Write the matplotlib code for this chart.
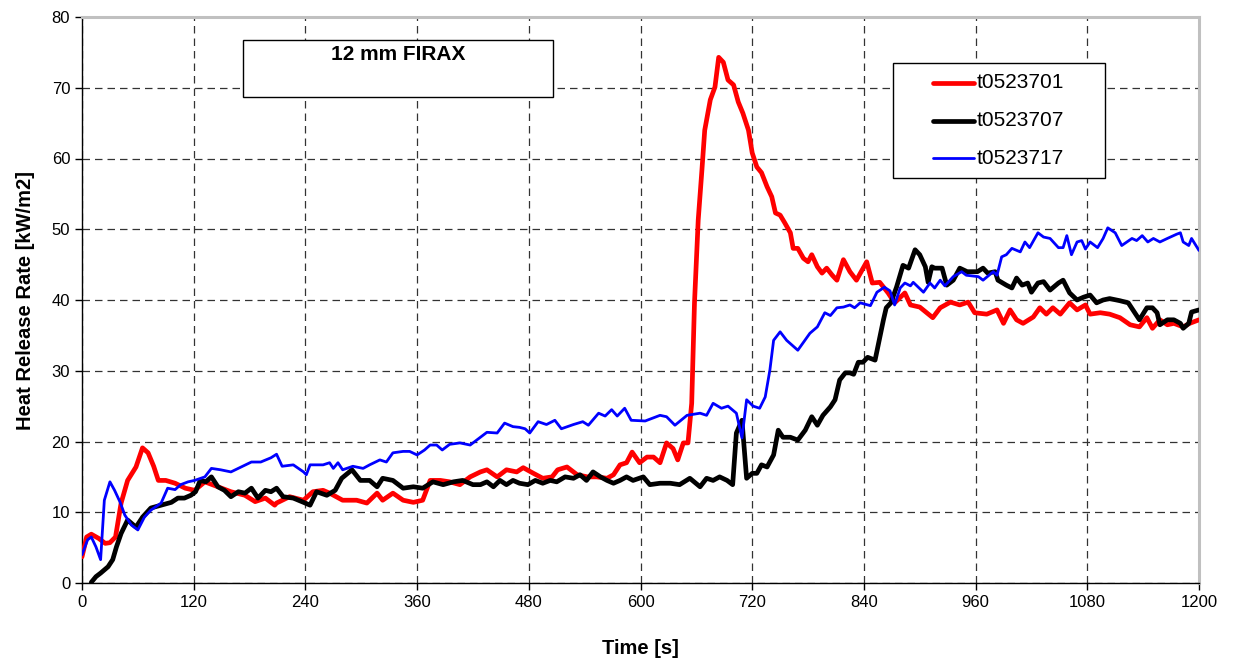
import matplotlib
matplotlib.use("Agg")
import matplotlib.pyplot as plt
from matplotlib.patches import Rectangle
from matplotlib.lines import Line2D

plt.rcParams['font.family'] = ['Liberation Sans', 'DejaVu Sans']

# ---- data ----
red_t = [0,5,10,18,25,30,36,42,49,58,65,71,77,82,90,100,111,121,132,146,160,175,186,197,207,
         209,223,238,248,259,266,280,295,306,317,323,334,345,356,366,374,385,395,406,417,428,435,
         446,456,467,474,485,495,505,511,521,532,543,553,564,571,578,585,591,599,607,614,621,628,
         635,640,646,651,655,658,662,666,669,675,680,684,689,694,700,705,710,716,720,725,730,736,
         741,745,750,755,761,764,769,775,780,784,790,795,800,806,811,818,825,832,843,849,857,866,
         873,884,890,900,914,922,933,943,952,959,972,983,990,997,1004,1011,1022,1029,1036,1043,
         1051,1061,1069,1078,1083,1094,1104,1115,1126,1136,1144,1150,1158,1166,1173,1183,1190,1200]
red_v = [3.7,6.5,6.9,6.3,5.6,5.7,6.5,11.3,14.5,16.4,19.1,18.4,16.5,14.5,14.5,14.1,13.4,13.1,14.3,13.6,
         12.9,12.4,11.5,12.0,11.0,11.3,12.2,11.7,12.9,13.1,12.7,11.7,11.7,11.3,12.7,11.7,12.7,11.7,11.4,
         11.7,14.5,14.5,14.3,13.9,15.0,15.7,16.0,15.0,16.0,15.7,16.3,15.5,14.8,15.0,16.0,16.4,15.3,15.0,
         15.0,14.8,15.3,16.7,17.0,18.5,17.0,17.8,17.8,17.0,19.8,19.0,17.4,19.8,19.8,25.4,39.6,51.3,58.4,
         64.0,68.3,70.1,74.3,73.6,71.1,70.4,68.0,66.4,64.0,60.8,58.8,58.0,56.0,54.6,52.3,52.0,50.9,49.5,
         47.3,47.3,45.9,45.4,46.4,44.7,43.8,44.5,43.5,42.8,45.7,44.0,42.8,45.4,42.4,42.5,41.0,39.6,41.0,
         39.3,39.0,37.5,38.9,39.7,39.3,39.7,38.2,38.0,38.6,36.7,38.6,37.2,36.7,37.6,38.9,38.0,38.9,38.0,
         39.6,38.6,39.3,38.0,38.2,38.0,37.5,36.5,36.2,37.5,36.0,37.2,36.5,36.7,36.2,36.7,37.2]

black_t = [10,15,20,28,33,37,42,49,58,65,74,85,96,103,110,117,122,127,133,139,146,153,160,168,175,182,
           189,197,203,209,216,227,238,245,252,263,272,279,290,299,309,317,323,334,345,356,366,377,388,
           399,409,420,428,435,442,449,456,463,470,479,487,495,503,510,519,528,535,542,549,557,564,571,
           578,585,592,603,610,621,632,642,653,664,671,678,685,693,699,703,709,714,720,725,730,736,743,
           748,753,761,769,777,784,790,796,804,809,814,820,825,829,834,839,844,852,855,861,864,869,875,
           882,888,895,900,906,909,913,916,924,929,936,943,951,962,968,973,981,984,993,999,1004,1010,
           1016,1020,1027,1033,1040,1049,1054,1061,1069,1076,1083,1090,1097,1104,1115,1124,1129,1136,
           1144,1150,1155,1158,1166,1173,1180,1183,1189,1192,1200]
black_v = [0.1,0.9,1.4,2.3,3.3,5.1,7.0,8.9,7.9,9.3,10.6,11.0,11.4,12.0,12.0,12.4,12.9,14.5,14.3,15.0,
           13.6,13.1,12.2,12.9,12.7,13.4,12.0,13.1,12.9,13.4,12.2,12.0,11.4,11.0,12.9,12.4,13.1,14.8,16.0,
           14.5,14.5,13.6,14.8,14.5,13.4,13.6,13.4,14.3,13.9,14.3,14.5,13.9,13.9,14.3,13.6,14.5,13.9,14.5,
           14.1,13.9,14.5,14.1,14.5,14.3,15.0,14.8,15.3,14.5,15.7,15.0,14.5,14.1,14.5,15.0,14.5,15.0,13.9,
           14.1,14.1,13.9,14.8,13.6,14.8,14.5,15.0,14.5,13.9,21.2,23.0,14.8,15.5,15.5,16.7,16.4,18.1,21.6,
           20.6,20.6,20.2,21.6,23.5,22.3,23.7,24.9,25.9,28.7,29.7,29.7,29.5,31.2,31.2,31.9,31.5,33.4,37.2,
           38.9,39.6,41.8,44.9,44.5,47.1,46.4,44.7,42.5,44.7,44.5,44.5,42.1,42.8,44.5,44.0,44.0,44.5,43.8,
           44.0,42.8,42.1,41.7,43.1,42.1,42.4,41.1,42.4,42.6,41.4,42.4,42.8,41.0,40.0,40.4,40.7,39.6,40.0,
           40.2,39.9,39.6,38.6,37.2,38.9,38.9,38.2,36.5,37.2,37.2,36.7,36.0,36.7,38.3,38.6]

blue_t = [0,6,10,15,20,24,30,35,41,46,53,60,67,74,85,92,100,106,114,121,132,139,149,160,171,182,192,
          203,209,215,227,238,241,245,259,266,270,275,280,291,302,309,320,327,334,345,352,360,368,374,
          381,387,395,406,417,428,435,446,454,463,470,476,481,490,499,508,515,528,538,544,555,562,569,
          575,583,590,605,621,628,637,650,664,671,678,687,694,703,709,714,721,728,734,739,743,750,757,
          769,782,790,798,804,811,818,825,830,836,847,854,862,868,873,879,884,890,893,904,911,916,922,
          927,936,945,950,963,968,979,983,988,993,999,1008,1013,1018,1027,1033,1040,1049,1054,1058,1063,
          1069,1074,1078,1083,1091,1097,1102,1110,1117,1128,1133,1139,1145,1151,1158,1166,1176,1180,1183,
          1189,1192,1200]
blue_v = [4.0,6.1,6.5,5.1,3.3,11.7,14.3,13.1,11.4,9.6,8.2,7.5,9.3,10.3,11.3,13.4,13.2,13.9,14.3,14.5,
          15.0,16.2,16.0,15.7,16.4,17.1,17.1,17.7,18.2,16.5,16.7,15.7,15.3,16.7,16.7,17.0,16.2,17.0,16.0,
          16.5,16.2,16.7,17.4,17.1,18.4,18.6,18.6,18.1,18.8,19.5,19.5,18.8,19.6,19.8,19.5,20.6,21.3,21.2,
          22.6,22.1,22.0,21.8,21.2,22.8,22.4,23.0,21.8,22.4,22.8,22.3,24.0,23.6,24.5,23.6,24.7,23.0,22.9,
          23.7,23.5,22.3,23.7,24.0,23.7,25.4,24.7,25.0,24.0,20.5,25.9,25.0,24.7,26.3,30.1,34.3,35.5,34.3,
          32.9,35.3,36.2,38.2,37.8,38.9,39.0,39.3,38.9,39.6,39.2,41.1,41.8,41.3,39.3,41.7,42.4,42.0,42.5,
          41.1,42.4,41.7,42.8,42.0,43.3,44.0,43.5,43.3,42.8,44.0,43.5,46.1,46.4,47.3,46.8,48.2,47.4,49.5,
          48.9,48.7,47.4,47.4,49.1,46.4,48.2,48.4,47.2,48.2,47.4,48.7,50.2,49.5,47.7,48.7,48.4,49.1,48.2,
          48.7,48.2,48.7,49.3,49.5,48.2,47.7,48.7,47.0]

series_names = ["t0523701", "t0523707", "t0523717"]
x_ticks = list(range(0, 1201, 120))
y_ticks = list(range(0, 81, 10))
title_text = "12 mm FIRAX"
x_label = "Time [s]"
y_label = "Heat Release Rate [kW/m2]"

# ---- figure ----
W, H = 1233, 664
fig = plt.figure(figsize=(W/100, H/100), dpi=100)
ax = fig.add_axes([82/W, 81/H, 1117/W, 566/H])

colors = ['#ff0000', '#000000', '#0000ff']
widths = [3.4, 3.4, 2.0]
series = [(red_t, red_v), (black_t, black_v), (blue_t, blue_v)]
for (t, v), c, w, name, z in zip(series, colors, widths, series_names, [3, 3, 4]):
    ax.plot(t, v, color=c, lw=w, solid_joinstyle='round', solid_capstyle='round', zorder=z, label=name)

ax.set_xlim(0, 1200)
ax.set_ylim(0, 80)
ax.set_xticks(x_ticks)
ax.set_yticks(y_ticks)
ax.tick_params(axis='both', direction='out', length=5, width=1, labelsize=12, color='black')
ax.grid(True, color='#333333', lw=0.9, linestyle=(0, (6, 4)))
ax.set_axisbelow(True)

for s in ['left', 'bottom']:
    ax.spines[s].set_color('black')
    ax.spines[s].set_linewidth(1.0)
for s in ['top', 'right']:
    ax.spines[s].set_color('#c0c0c0')
    ax.spines[s].set_linewidth(2.2)

ax.set_xlabel(x_label, fontsize=14.5, fontweight='bold', labelpad=21)
ax.set_ylabel(y_label, fontsize=14.5, fontweight='bold', labelpad=12)

def axx(px):
    return (px - 82) / 1117

def axy(py):
    return (583 - py) / 566

# title box
ax.add_patch(Rectangle((axx(243), axy(97)), axx(553) - axx(243), axy(40) - axy(97),
                       transform=ax.transAxes, facecolor='white', edgecolor='black', lw=1.0, zorder=5))
ax.text((axx(243) + axx(553)) / 2, axy(54), title_text, transform=ax.transAxes, ha='center',
        va='center', fontsize=15, fontweight='bold', zorder=6)

# legend (drawn as a framed box with sample lines)
ax.add_patch(Rectangle((axx(893), axy(178)), axx(1105) - axx(893), axy(63) - axy(178),
                       transform=ax.transAxes, facecolor='white', edgecolor='black', lw=1.0, zorder=5))
for name, c, w, py in zip(series_names, colors, widths, [83, 121, 158]):
    ax.add_line(Line2D([axx(933), axx(974)], [axy(py), axy(py)], transform=ax.transAxes,
                       color=c, lw=w, solid_capstyle='round', zorder=6, clip_on=False))
    ax.text(axx(977), axy(py), name, transform=ax.transAxes, ha='left', va='center',
            fontsize=15, zorder=6)

fig.savefig('out.png', dpi=100)
